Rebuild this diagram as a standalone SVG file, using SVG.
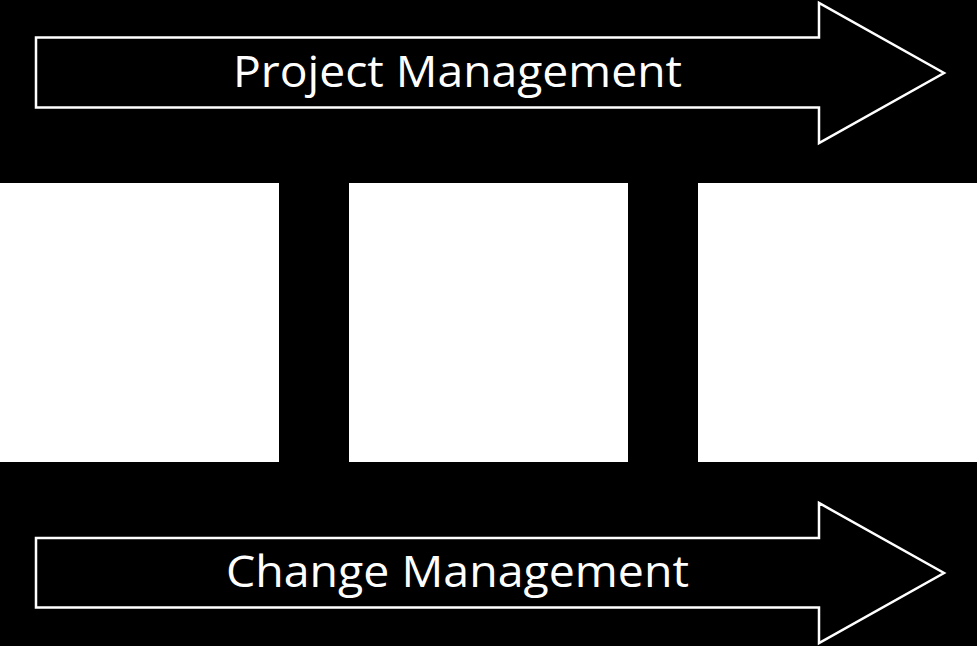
<svg xmlns="http://www.w3.org/2000/svg" width="977" height="646" viewBox="0 0 977 646">
<style>
.arrow{fill:#000;stroke:#fff;stroke-width:2.5}
.lbl{fill:#fff;font-family:"Open Sans","Noto Sans",sans-serif;font-size:43px;text-anchor:middle}
.box{fill:#fff}
</style>
<rect x="0" y="0" width="977" height="646" fill="#000"/>
<g id="project-management">
<polygon class="arrow" points="36,37.5 819,37.5 819,3 944,73 819,143 819,107.5 36,107.5"/>
<text class="lbl" x="457.5" y="87.3" textLength="449" lengthAdjust="spacingAndGlyphs">Project Management</text>
</g>
<g id="box-1"><rect class="box" x="0" y="183" width="279" height="279"/></g>
<g id="box-2"><rect class="box" x="349" y="183" width="279" height="279"/></g>
<g id="box-3"><rect class="box" x="698" y="183" width="279" height="279"/></g>
<g id="change-management">
<polygon class="arrow" points="36,538 819,538 819,503 944,573 819,643 819,607.5 36,607.5"/>
<text class="lbl" x="457.5" y="586.7" textLength="463" lengthAdjust="spacingAndGlyphs">Change Management</text>
</g>
<g id="connectors"/>
</svg>
